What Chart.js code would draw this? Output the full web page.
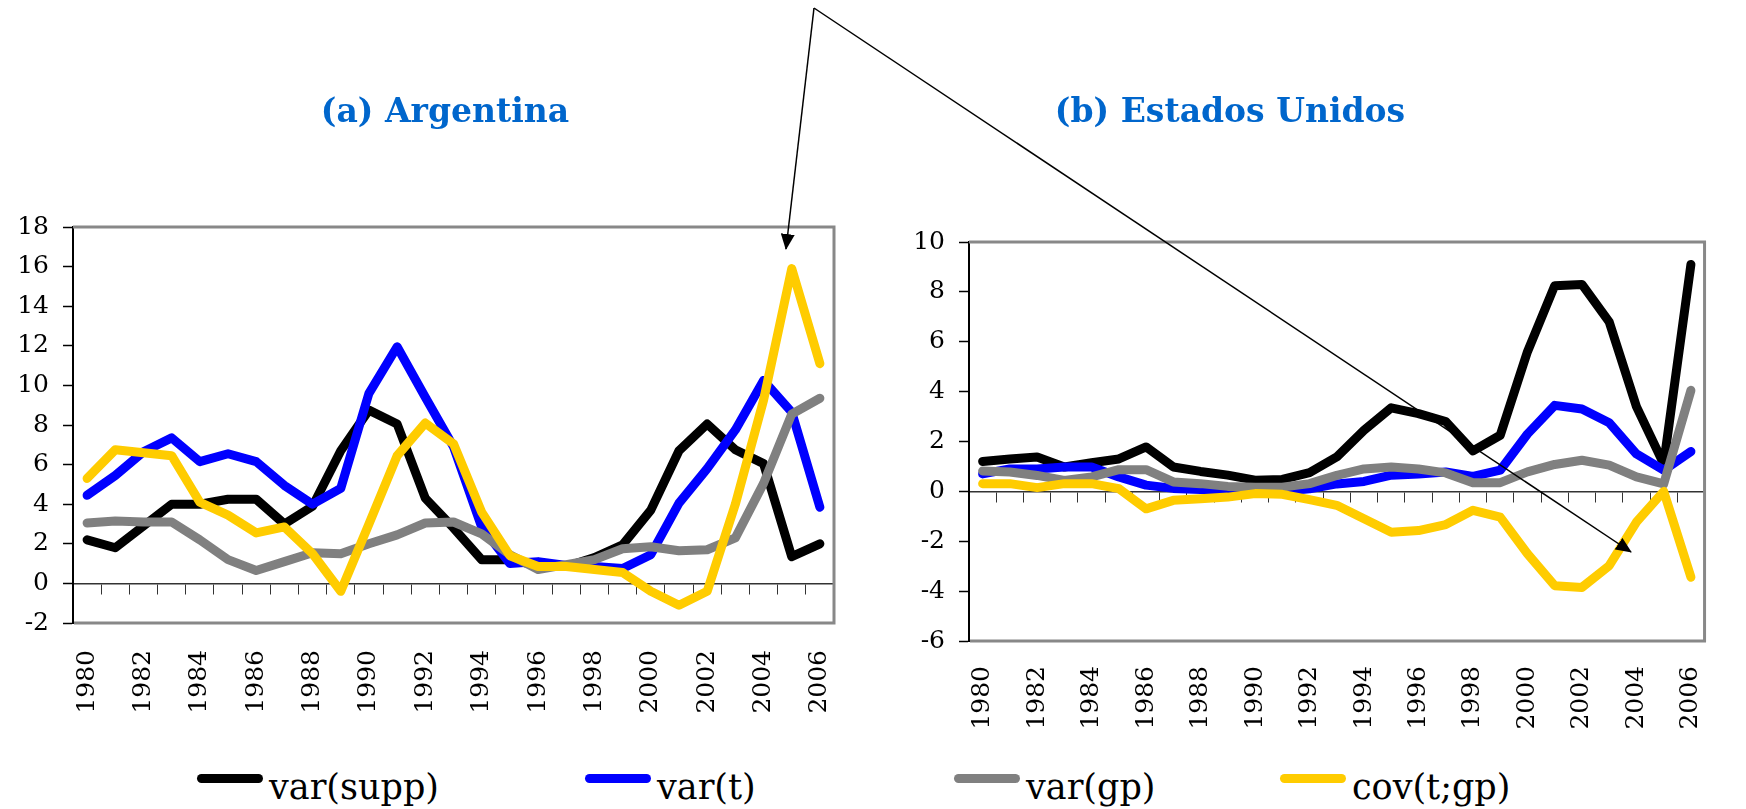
<!DOCTYPE html>
<html>
<head>
<meta charset="utf-8">
<script src="https://cdn.jsdelivr.net/npm/chart.js@4.4.1/dist/chart.umd.min.js"></script>
<style>
    html, body { margin: 0; padding: 0; background: #fff; }
    #page { position: relative; width: 1746px; height: 809px; overflow: hidden; }
    canvas { position: absolute; top: 0; }
    #arg { left: 0; }
    #usa { left: 700px; }
    #arrows { position: absolute; left: 0; top: 0; pointer-events: none; }
    .swatch { position: absolute; top: 774px; width: 66px; height: 9px; border-radius: 5px; }
    .name { position: absolute; top: 767px; font: 35px 'DejaVu Serif', serif; line-height: 40px; color: #000; white-space: nowrap; }
</style>
</head>
<body>
<div id="page">
    <canvas id="arg" width="890" height="730"></canvas>
    <canvas id="usa" width="1046" height="745"></canvas>
    <div id="legend"></div>
    <svg id="arrows" width="1746" height="809">
        <defs>
            <marker id="head" markerWidth="16" markerHeight="14" refX="15" refY="7" orient="auto" markerUnits="userSpaceOnUse">
                <path d="M0,0 L16,7 L0,14 Z" fill="#000"></path>
            </marker>
        </defs>
        <line x1="814" y1="8" x2="786" y2="249" stroke="#000" stroke-width="1.5" marker-end="url(#head)"></line>
        <line x1="814" y1="8" x2="1631" y2="552" stroke="#000" stroke-width="1.5" marker-end="url(#head)"></line>
    </svg>
</div>
<script>
const years = ['1980', '1981', '1982', '1983', '1984', '1985', '1986', '1987', '1988', '1989',
    '1990', '1991', '1992', '1993', '1994', '1995', '1996', '1997', '1998', '1999',
    '2000', '2001', '2002', '2003', '2004', '2005', '2006'];

const seriesNames = ['var(supp)', 'var(t)', 'var(gp)', 'cov(t;gp)'];
const seriesColors = ['#000000', '#0000ff', '#808080', '#ffcc00'];

// (a) Argentina
const argSupp = [2.2, 1.8, 2.9, 4.0, 4.0, 4.25, 4.25, 3.0, 3.9, 6.7, 8.75, 8.05, 4.3, 2.8, 1.2, 1.2, 0.9, 0.85, 1.3, 1.95, 3.7, 6.7, 8.05, 6.75, 6.05, 1.35, 2.0];
const argT = [4.45, 5.45, 6.65, 7.35, 6.15, 6.55, 6.15, 4.95, 4.0, 4.8, 9.6, 11.95, 9.4, 6.9, 2.85, 1.0, 1.1, 0.9, 0.85, 0.75, 1.45, 4.05, 5.8, 7.75, 10.25, 8.65, 3.85];
const argGp = [3.05, 3.15, 3.1, 3.1, 2.2, 1.2, 0.65, 1.1, 1.55, 1.5, 2.0, 2.45, 3.05, 3.1, 2.5, 1.45, 0.7, 0.95, 1.2, 1.75, 1.85, 1.65, 1.7, 2.3, 5.05, 8.55, 9.35];
const argCov = [5.3, 6.75, 6.6, 6.45, 4.1, 3.45, 2.55, 2.85, 1.5, -0.4, 3.0, 6.45, 8.1, 7.05, 3.6, 1.4, 0.85, 0.85, 0.7, 0.55, -0.4, -1.1, -0.4, 4.0, 9.25, 15.9, 11.1];

// (b) Estados Unidos
const usSupp = [1.2, 1.3, 1.38, 0.98, 1.15, 1.3, 1.78, 0.98, 0.8, 0.65, 0.45, 0.48, 0.75, 1.38, 2.45, 3.35, 3.12, 2.8, 1.62, 2.25, 5.6, 8.25, 8.3, 6.8, 3.4, 1.1, 9.1];
const usT = [0.7, 0.9, 0.9, 0.98, 0.98, 0.58, 0.25, 0.12, 0.07, 0.0, 0.0, 0.0, 0.1, 0.3, 0.4, 0.65, 0.7, 0.78, 0.6, 0.85, 2.3, 3.45, 3.3, 2.75, 1.5, 0.85, 1.6];
const usGp = [0.82, 0.78, 0.64, 0.44, 0.58, 0.87, 0.87, 0.38, 0.31, 0.2, 0.17, 0.17, 0.31, 0.64, 0.9, 0.98, 0.9, 0.74, 0.35, 0.35, 0.78, 1.08, 1.25, 1.05, 0.58, 0.3, 4.05];
const usCov = [0.31, 0.31, 0.15, 0.31, 0.31, 0.11, -0.7, -0.36, -0.3, -0.23, -0.09, -0.12, -0.33, -0.56, -1.1, -1.64, -1.57, -1.33, -0.76, -1.03, -2.5, -3.78, -3.85, -2.98, -1.23, 0.0, -3.44];

const argTicks = { min: -2, max: 18, step: 2 };
const usTicks = { min: -6, max: 10, step: 2 };

Chart.defaults.font.family = "'DejaVu Serif', serif";
Chart.defaults.color = '#000';

// grey frame on top, right and bottom of the plot area
const plotFrame = {
    id: 'plotFrame',
    beforeDatasetsDraw(chart) {
        const { ctx, chartArea: a } = chart;
        ctx.save();
        ctx.strokeStyle = '#888888';
        ctx.lineWidth = 3;
        ctx.beginPath();
        ctx.moveTo(a.left, a.top);
        ctx.lineTo(a.right, a.top);
        ctx.lineTo(a.right, a.bottom);
        ctx.lineTo(a.left + 1, a.bottom);
        ctx.stroke();
        ctx.restore();
    }
};

function makeChart(id, title, series, range, box) {
    const datasets = series.map((data, i) => ({
        label: seriesNames[i],
        data: data,
        borderColor: seriesColors[i],
        backgroundColor: seriesColors[i],
        borderWidth: 9,
        pointRadius: 0,
        tension: 0,
        borderCapStyle: 'round',
        borderJoinStyle: 'round',
        order: series.length - i
    }));

    return new Chart(document.getElementById(id), {
        type: 'line',
        data: { labels: years, datasets: datasets },
        plugins: [plotFrame],
        options: {
            responsive: false,
            animation: false,
            layout: { padding: { left: box.padLeft, right: 0, top: 0, bottom: 0 } },
            plugins: {
                legend: { display: false },
                tooltip: { enabled: false },
                title: {
                    display: true,
                    text: title,
                    color: '#0066cc',
                    font: { size: 33, weight: 'bold' },
                    padding: { top: 94, bottom: box.titleBottom }
                }
            },
            scales: {
                x: {
                    type: 'category',
                    offset: true,
                    grid: { display: false, drawTicks: false },
                    border: { display: false },
                    ticks: {
                        autoSkip: false,
                        minRotation: 90,
                        maxRotation: 90,
                        padding: box.labelPad,
                        font: { size: 25 },
                        color: '#000',
                        callback: function (value, index) {
                            return index % 2 === 0 ? this.getLabelForValue(value) : null;
                        }
                    },
                    afterFit(s) { s.height = box.xHeight; }
                },
                x2: {
                    type: 'category',
                    axis: 'x',
                    position: { y: 0 },
                    offset: true,
                    grid: { offset: true, drawOnChartArea: false, drawTicks: true, tickLength: 10, color: '#333', lineWidth: 1 },
                    border: { display: true, color: '#333', width: 1.5 },
                    ticks: { display: false }
                },
                y: {
                    min: range.min,
                    max: range.max,
                    grid: { drawOnChartArea: false, drawTicks: true, tickLength: 10, tickColor: '#000', tickWidth: 1.5 },
                    border: { display: true, color: '#000', width: 2 },
                    ticks: { stepSize: range.step, padding: 14, font: { size: 25 }, color: '#000' },
                    afterFit(s) { s.width = box.yWidth; }
                },
                // empty right-hand spacer, keeps the title centred where the original has it
                ySpace: {
                    axis: 'y',
                    position: 'right',
                    grid: { display: false, drawTicks: false },
                    border: { display: false },
                    ticks: { display: false },
                    afterFit(s) { s.width = box.rightSpace; }
                }
            }
        }
    });
}

makeChart('arg', '(a) Argentina', [argSupp, argT, argGp, argCov], argTicks,
    { padLeft: 0, yWidth: 73, rightSpace: 56, xHeight: 107, titleBottom: 93.4, labelPad: 27 });
makeChart('usa', '(b) Estados Unidos', [usSupp, usT, usGp, usCov], usTicks,
    { padLeft: 14, yWidth: 255, rightSpace: 4, xHeight: 104, titleBottom: 108.4, labelPad: 25 });

// shared legend under both panels
const legendStarts = [197, 585, 954, 1280];
const legend = document.getElementById('legend');
seriesNames.forEach((name, i) => {
    const sw = document.createElement('div');
    sw.className = 'swatch';
    sw.style.left = legendStarts[i] + 'px';
    sw.style.background = seriesColors[i];
    legend.appendChild(sw);
    const tx = document.createElement('div');
    tx.className = 'name';
    tx.style.left = (legendStarts[i] + 72) + 'px';
    tx.textContent = name;
    legend.appendChild(tx);
});
</script>
</body>
</html>
